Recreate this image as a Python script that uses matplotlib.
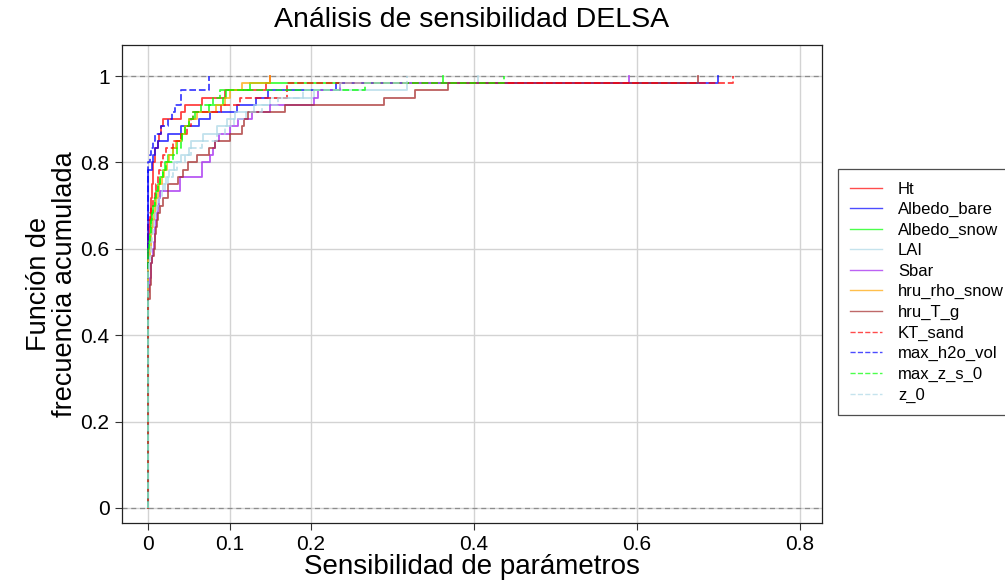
import numpy as np
import matplotlib
import matplotlib.pyplot as plt
from matplotlib.lines import Line2D

matplotlib.use('Agg')

plt.rcParams['font.family'] = ['Liberation Sans', 'DejaVu Sans']

# DELSA first-order sensitivity per parameter (60 parameter sets each)
ht = [0.0] * 38 + [
    0.001, 0.002, 0.003, 0.004, 0.004, 0.005, 0.005, 0.006, 0.006, 0.006,
    0.008, 0.009, 0.012, 0.014, 0.016, 0.018, 0.041, 0.045, 0.066, 0.094,
    0.145, 0.150]
albedo_bare = [0.0] * 47 + [
    0.005, 0.006, 0.008, 0.012, 0.025, 0.041, 0.062, 0.076, 0.109, 0.133,
    0.147, 0.230, 0.700]
albedo_snow = [0.0] * 36 + [
    0.001, 0.002, 0.003, 0.004, 0.005, 0.006, 0.008, 0.010, 0.012, 0.015,
    0.018, 0.021, 0.025, 0.030, 0.036, 0.042, 0.045, 0.050, 0.058, 0.075,
    0.092, 0.096, 0.125, 0.362]
lai = [0.0] * 34 + [
    0.001, 0.002, 0.003, 0.004, 0.005, 0.006, 0.008, 0.010, 0.012, 0.015,
    0.018, 0.022, 0.026, 0.032, 0.040, 0.050, 0.053, 0.068, 0.085, 0.097,
    0.107, 0.130, 0.150, 0.203, 0.318, 0.405]
sbar = [0.0] * 30 + [
    0.001, 0.002, 0.003, 0.004, 0.005, 0.006, 0.007, 0.008, 0.009, 0.010,
    0.011, 0.012, 0.013, 0.015, 0.039, 0.039, 0.066, 0.066, 0.076, 0.080,
    0.082, 0.087, 0.100, 0.110, 0.127, 0.150, 0.203, 0.208, 0.236, 0.590]
hru_rho_snow = [0.0] * 35 + [
    0.002, 0.003, 0.004, 0.005, 0.006, 0.007, 0.008, 0.010, 0.012, 0.014,
    0.017, 0.020, 0.023, 0.026, 0.030, 0.034, 0.040, 0.045, 0.050, 0.060,
    0.083, 0.094, 0.100, 0.115, 0.149]
hru_t_g = [0.0] * 29 + [
    0.002, 0.002, 0.003, 0.003, 0.004, 0.005, 0.007, 0.008, 0.009, 0.010,
    0.011, 0.012, 0.015, 0.018, 0.025, 0.025, 0.037, 0.043, 0.049, 0.060,
    0.075, 0.082, 0.100, 0.115, 0.118, 0.123, 0.168, 0.290, 0.328, 0.368,
    0.675]
kt_sand = [0.0] * 40 + [
    0.002, 0.004, 0.006, 0.008, 0.010, 0.012, 0.014, 0.016, 0.018, 0.022,
    0.030, 0.040, 0.048, 0.053, 0.055, 0.090, 0.113, 0.170, 0.170, 0.718]
max_h2o_vol = [0.0] * 48 + [
    0.002, 0.003, 0.006, 0.008, 0.016, 0.024, 0.029, 0.033, 0.040, 0.041,
    0.075, 0.075]
max_z_s_0 = [0.0] * 36 + [
    0.001, 0.002, 0.003, 0.004, 0.005, 0.006, 0.008, 0.010, 0.012, 0.015,
    0.018, 0.022, 0.030, 0.036, 0.040, 0.042, 0.045, 0.050, 0.055, 0.065,
    0.080, 0.088, 0.266, 0.437]
z_0 = [0.0] * 33 + [
    0.001, 0.002, 0.003, 0.004, 0.005, 0.006, 0.007, 0.009, 0.011, 0.014,
    0.017, 0.021, 0.025, 0.030, 0.036, 0.045, 0.053, 0.066, 0.085, 0.095,
    0.105, 0.120, 0.140, 0.160, 0.190, 0.235, 0.318]

param_names = ['Ht', 'Albedo_bare', 'Albedo_snow', 'LAI', 'Sbar', 'hru_rho_snow',
               'hru_T_g', 'KT_sand', 'max_h2o_vol', 'max_z_s_0', 'z_0']
param_values = [ht, albedo_bare, albedo_snow, lai, sbar, hru_rho_snow,
                hru_t_g, kt_sand, max_h2o_vol, max_z_s_0, z_0]
colors = ['#FF0000', '#0000FF', '#00FF00', '#ADD8E6', '#A020F0', '#FFA500',
          '#A52A2A', '#FF0000', '#0000FF', '#00FF00', '#ADD8E6']
styles = ['-'] * 7 + ['--'] * 4

x_ticks = [0, 0.1, 0.2, 0.4, 0.6, 0.8]
x_tick_labels = ['0', '0.1', '0.2', '0.4', '0.6', '0.8']
y_ticks = [0, 0.2, 0.4, 0.6, 0.8, 1.0]
y_tick_labels = ['0', '0.2', '0.4', '0.6', '0.8', '1']

fig = plt.figure(figsize=(10.05, 5.82), dpi=100)
ax = fig.add_axes([0.1214, 0.1014, 0.6965, 0.8213])

for v in x_ticks:
    ax.axvline(v, color='#d3d3d3', lw=1.0, zorder=0)
for v in y_ticks:
    ax.axhline(v, color='#d3d3d3', lw=1.0, zorder=0)
ax.axhline(0, color='#8c8c8c', lw=0.9, ls='--', dashes=(4, 3), zorder=1)
ax.axhline(1, color='#8c8c8c', lw=0.9, ls='--', dashes=(4, 3), zorder=1)

for vals, name, col, ls in zip(param_values, param_names, colors, styles):
    ax.ecdf(np.array(vals), color=col, ls=ls, lw=1.3, alpha=0.75, label=name, zorder=2)

ax.set_xlim(-0.032, 0.827)
ax.set_ylim(-0.035, 1.072)
ax.set_xticks(x_ticks)
ax.set_xticklabels(x_tick_labels)
ax.set_yticks(y_ticks)
ax.set_yticklabels(y_tick_labels)
ax.tick_params(axis='both', labelsize=15, length=5, width=0.8, color='#333333', pad=4)
for sp in ax.spines.values():
    sp.set_linewidth(0.9)
    sp.set_color('#222222')

ax.set_xlabel('Sensibilidad de parámetros', fontsize=20, labelpad=0)
ax.set_ylabel('Función de\nfrecuencia acumulada', fontsize=19.5, labelpad=2, linespacing=1.0)
ax.set_title('Análisis de sensibilidad DELSA', fontsize=20.5, pad=13)

handles = [Line2D([], [], color=c, ls=s, lw=1.0, alpha=0.7) for c, s in zip(colors, styles)]
leg = fig.legend(handles, param_names, loc='upper left', bbox_to_anchor=(0.8338, 0.7096),
                 borderaxespad=0, fontsize=12, frameon=True, fancybox=False,
                 edgecolor='#222222', handlelength=1.9, handletextpad=0.95,
                 labelspacing=0.33, borderpad=0.75)
leg.get_frame().set_linewidth(0.9)

fig.savefig('out.png', dpi=100)
